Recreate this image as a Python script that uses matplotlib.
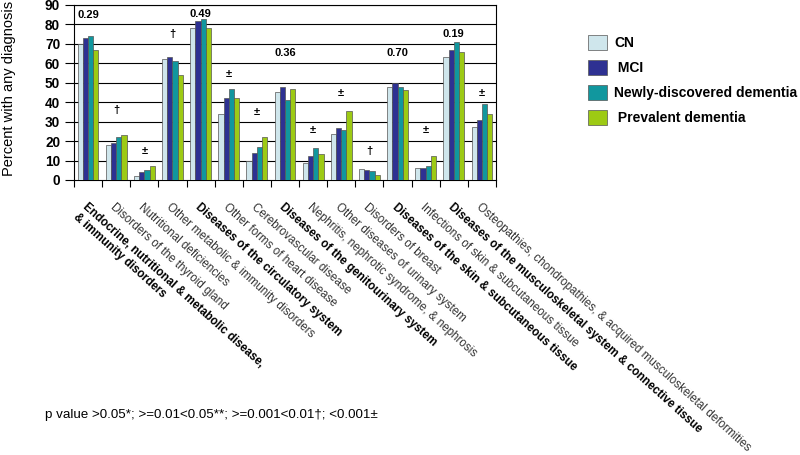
import matplotlib
matplotlib.use("Agg")
import matplotlib.pyplot as plt
import numpy as np

plt.rcParams['font.family'] = ['Liberation Sans', 'DejaVu Sans']

categories = [
    "Endocrine, nutritional & metabolic disease,\n& immunity disorders",
    "Disorders of the thyroid gland",
    "Nutritional deficiencies",
    "Other metabolic & immunity disorders",
    "Diseases of the circulatory system",
    "Other forms of heart disease",
    "Cerebrovascular disease",
    "Diseases of the genitourinary system",
    "Nephritis, nephrotic syndrome, & nephrosis",
    "Other diseases of urinary system",
    "Disorders of breast",
    "Diseases of the skin & subcutaneous tissue",
    "Infections of skin & subcutaneous tissue",
    "Diseases of the musculoskeletal system & connective tissue",
    "Osteopathies, chondropathies, & acquired musculoskeletal deformities",
]
bold_categories = [0, 4, 7, 11, 13]

series_names = ["CN", " MCI", "Newly-discovered dementia", " Prevalent dementia"]
cn = [70, 18, 2, 62, 78, 34, 10, 45, 8.6, 23.5, 5.7, 47.8, 6, 63.5, 27]
mci = [73, 19, 4, 63.5, 82, 42, 14, 48, 12.3, 26.6, 5.3, 49.7, 6, 66.7, 31]
newdem = [74, 22, 5, 61, 83, 47, 17, 41, 16.3, 25.6, 4.5, 47.8, 7.2, 70.8, 39]
prevdem = [67, 23, 7, 54, 78, 42, 22, 47, 13.2, 35.3, 2.6, 46.1, 12.3, 65.7, 34]

pvalue_labels = ["0.29", "†", "±", "†", "0.49", "±", "±", "0.36", "±", "±", "†", "0.70", "±", "0.19", "±"]
pvalue_label_y = [85, 36, 15, 75, 85.4, 54.5, 35, 65.3, 25.7, 44.8, 15, 65.3, 25.7, 75, 44.8]

yticks = [0, 10, 20, 30, 40, 50, 60, 70, 80, 90]
footnote = "p value >0.05*; >=0.01<0.05**; >=0.001<0.01†; <0.001±"
ylabel = "Percent with any diagnosis"

colors = ["#cfe6ec", "#2e3192", "#11979e", "#9dca14"]

fig = plt.figure(figsize=(8, 4.55), dpi=100)
ax = fig.add_axes([74/800, 1-180/455, 422/800, 175/455])

x = np.arange(len(categories))
bw = 0.185
series = [cn, mci, newdem, prevdem]
handles = []
for k, (vals, col) in enumerate(zip(series, colors)):
    b = ax.bar(x + (k - 1.5) * bw, vals, bw, color=col, edgecolor="#555555",
               linewidth=0.5, zorder=3)
    handles.append(b)

ax.set_xlim(-0.5, len(categories) - 0.5)
ax.set_ylim(0, 90)
ax.set_yticks(yticks)
ax.set_yticklabels([str(t) for t in yticks], fontweight='bold', fontsize=9.8)
ax.tick_params(axis='y', direction='out', length=6.5, width=0.8, pad=3.5)
for t in yticks[1:]:
    ax.axhline(t, color='black', linewidth=0.8, zorder=1)

ax.set_xticks(np.arange(len(categories) + 1) - 0.5)
ax.set_xticklabels([])
ax.tick_params(axis='x', which='major', direction='out', length=5, width=0.8)
ax.set_xticks(x, minor=True)
ax.set_xticklabels(categories, minor=True, rotation=-42, ha='left',
                   rotation_mode='anchor', fontsize=8.4, linespacing=1.15)
ax.tick_params(axis='x', which='minor', length=0, pad=15)
for i, lab in enumerate(ax.get_xticklabels(minor=True)):
    if i in bold_categories:
        lab.set_fontweight('bold')
        lab.set_color('black')
    else:
        lab.set_color('#333333')

for sp in ax.spines.values():
    sp.set_linewidth(0.8)

for i, (lab, yy) in enumerate(zip(pvalue_labels, pvalue_label_y)):
    ax.text(i, yy, lab, ha='center', va='center', fontsize=8, fontweight='bold', zorder=4)

fig.text(9/800, 1-88/455, ylabel, rotation=90, ha='center', va='center', fontsize=10.5)

fig.legend(handles, series_names, loc='upper left', bbox_to_anchor=(588/800, 1-35/455),
           frameon=False, borderpad=0, borderaxespad=0, handlelength=1.35,
           handleheight=1.25, handletextpad=0.55, labelspacing=0.72,
           prop={'weight': 'bold', 'size': 10})

fig.text(45/800, 1-415/455, footnote, ha='left', va='center', fontsize=9.6)

fig.savefig("out.png", dpi=100)
